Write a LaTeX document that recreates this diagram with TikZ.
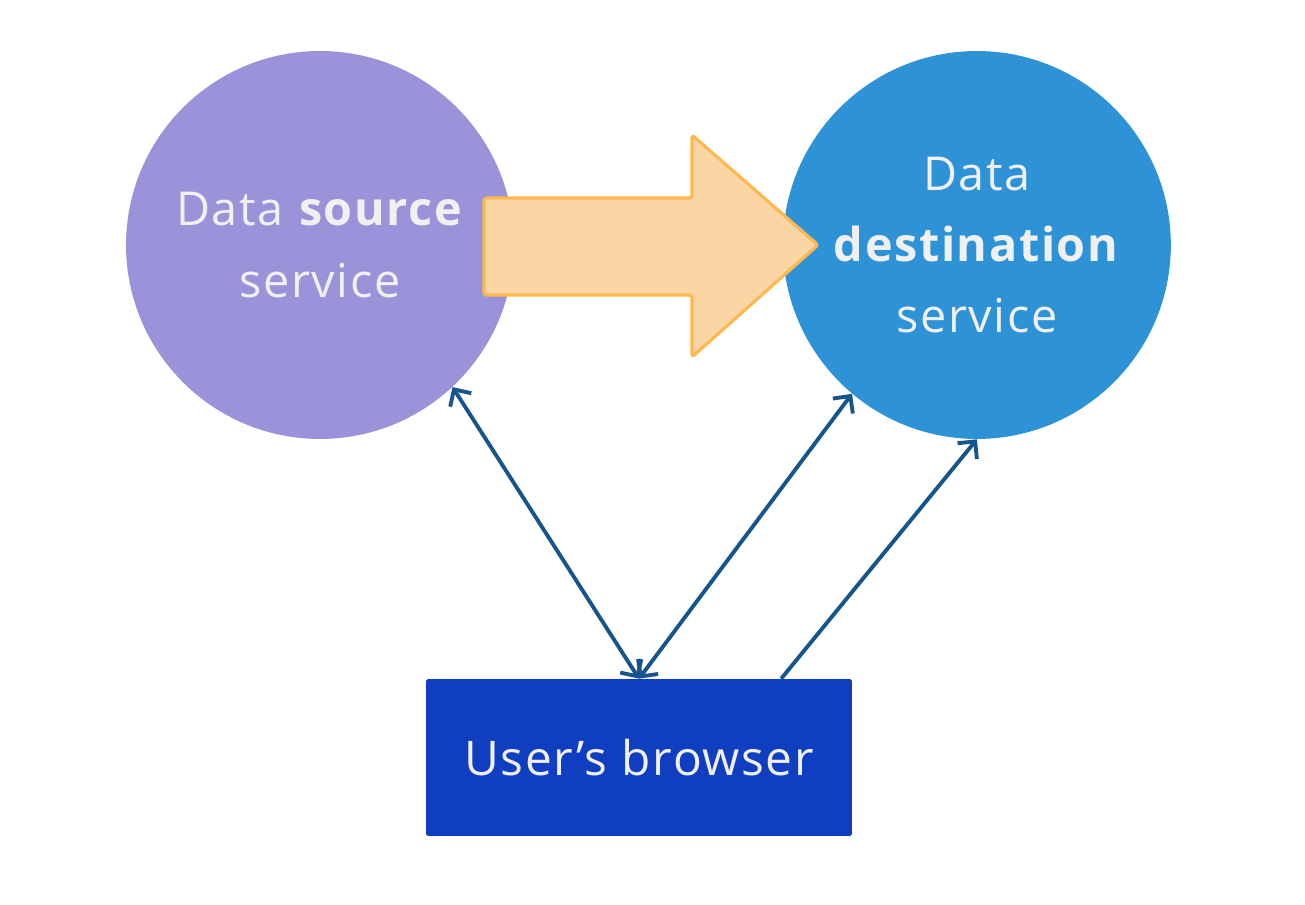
\documentclass[tikz,border=0pt]{standalone}
\usepackage{fontspec}
\setmainfont{Open Sans}[LetterSpace=3.5]
\usetikzlibrary{arrows.meta,positioning}

\definecolor{srcpurple}{RGB}{155,147,218}
\definecolor{dstblue}{RGB}{46,147,214}
\definecolor{browserblue}{RGB}{15,62,192}
\definecolor{linkblue}{RGB}{22,85,140}
\definecolor{flowfill}{RGB}{252,213,164}
\definecolor{flowline}{RGB}{253,185,80}
\definecolor{labelgray}{RGB}{240,240,240}

\tikzset{
  service/.style={circle, draw=none, minimum size=7.76cm, inner sep=0pt,
    text=labelgray, align=center, font=\fontsize{26.6}{40.5}\selectfont},
  client/.style={rectangle, rounded corners=1pt, fill=browserblue, minimum width=8.52cm,
    minimum height=3.14cm, text=labelgray, font=\fontsize{27.2}{40}\selectfont},
  link/.style={draw=linkblue, line width=2.2pt, line cap=round,
    arrows={Straight Barb[length=0.25cm, width=0.5cm, line width=2.2pt]-Straight Barb[length=0.25cm, width=0.5cm, line width=2.2pt]}},
  onelink/.style={draw=linkblue, line width=2.2pt,
    -{Straight Barb[length=0.25cm, width=0.5cm, line width=2.2pt]}},
  flow/.style={fill=flowfill, draw=flowline, line width=1.8pt, rounded corners=1.5pt, line join=round}
}

\begin{document}
\begin{tikzpicture}[x=0.02cm, y=-0.02cm, node distance=13.14cm]
    \useasboundingbox[fill=white] (0,0) rectangle (1305,905);
    % services
    \node (source) [service, fill=srcpurple] at (320,245) {Data \textbf{source}\\service};
    \node (dest) [service, fill=dstblue, right of=source] {Data\\\textbf{destination}\\service};
    \node (browser) [client] at (639,757.5) {User’s browser};
    % big flow arrow
    \draw[flow] (484,198) -- (692,198) -- (692,135) -- (818,245) -- (692,357) -- (692,295) -- (484,295) -- cycle;
    % links
    \draw[link] (browser.north) -- (source.-47);
    \draw[link] (browser.north) -- (dest.-130);
    \draw[onelink] (browser.29) -- (dest.south);
\end{tikzpicture}
\end{document}
